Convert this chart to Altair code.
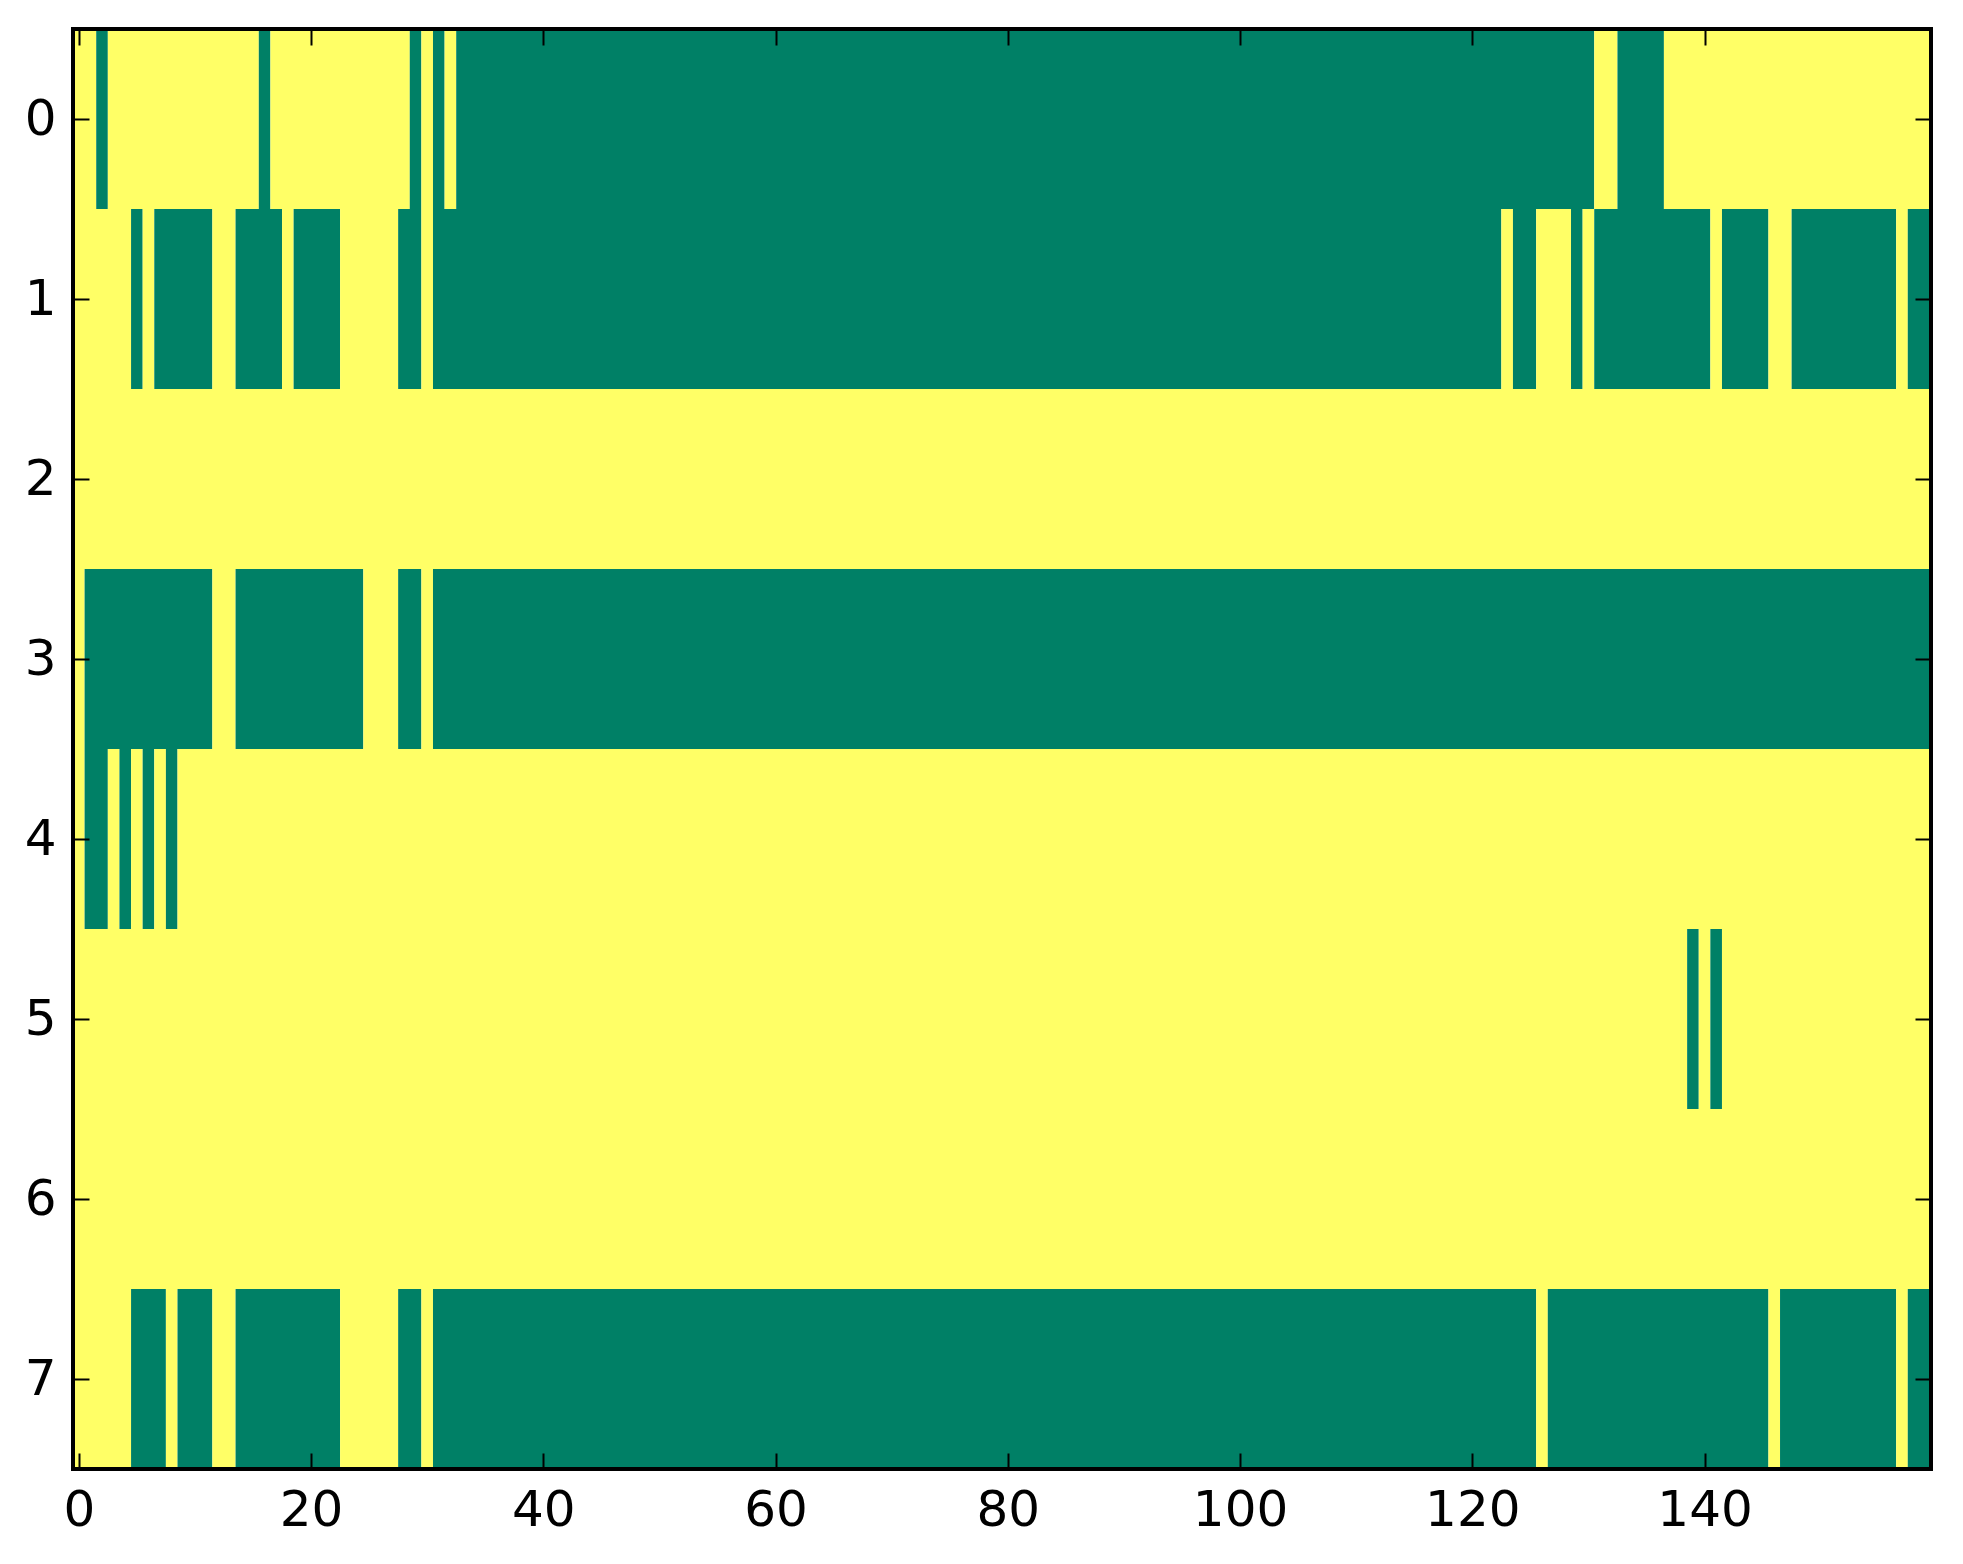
import altair as alt
import pandas as pd

n_cols = 160
row_ids = [0, 1, 2, 3, 4, 5, 6, 7]

# green (value 0) column ranges per row, inclusive; everything else is yellow (value 1)
row0_green = [(2, 2), (16, 16), (29, 29), (31, 31), (33, 130), (133, 136)]
row1_green = [(5, 5), (7, 11), (14, 17), (19, 22), (28, 29), (31, 122), (124, 125),
              (129, 129), (131, 140), (142, 145), (148, 156), (158, 159)]
row2_green = []
row3_green = [(1, 11), (14, 24), (28, 29), (31, 159)]
row4_green = [(1, 2), (4, 4), (6, 6), (8, 8)]
row5_green = [(139, 139), (141, 141)]
row6_green = []
row7_green = [(5, 7), (9, 11), (14, 22), (28, 29), (31, 125), (127, 145), (147, 156), (158, 159)]

x_ticks = [0, 20, 40, 60, 80, 100, 120, 140]
y_ticks = [0, 1, 2, 3, 4, 5, 6, 7]

GREEN = "#008066"
YELLOW = "#ffff66"

all_green = [row0_green, row1_green, row2_green, row3_green,
             row4_green, row5_green, row6_green, row7_green]

# build matrix of values then run-length encode for drawing
records = []
for r, runs in zip(row_ids, all_green):
    vals = [1] * n_cols
    for a, b in runs:
        for c in range(a, b + 1):
            vals[c] = 0
    start = 0
    for c in range(1, n_cols + 1):
        if c == n_cols or vals[c] != vals[start]:
            records.append({"row": r, "x0": start - 0.5, "x1": c - 0.5,
                            "y0": r - 0.5, "y1": r + 0.5, "value": vals[start]})
            start = c
df = pd.DataFrame(records)

W, H = 1858, 1440
TICK = 16
FONT = "DejaVu Sans"
FS = 50

xscale = alt.Scale(domain=[-0.5, 159.5], nice=False, zero=False)
yscale = alt.Scale(domain=[-0.5, 7.5], reverse=True, nice=False, zero=False)
cscale = alt.Scale(domain=[0, 1], range=[GREEN, YELLOW])

cells = alt.Chart(df).mark_rect(strokeWidth=0).encode(
    x=alt.X("x0:Q", scale=xscale, title=None,
            axis=alt.Axis(orient="bottom", values=x_ticks, offset=-TICK, tickSize=TICK,
                          tickWidth=2, tickColor="black", domain=False, grid=False,
                          labelFont=FONT, labelFontSize=FS, labelColor="black",
                          labelPadding=16, labelFlush=False, labelOverlap=False,
                          format="d", zindex=1)),
    x2="x1:Q",
    y=alt.Y("y0:Q", scale=yscale, title=None,
            axis=alt.Axis(orient="left", values=y_ticks, offset=-TICK, tickSize=TICK,
                          tickWidth=2, tickColor="black", domain=False, grid=False,
                          labelFont=FONT, labelFontSize=FS, labelColor="black",
                          labelPadding=17, labelFlush=False, labelOverlap=False,
                          format="d", zindex=1)),
    y2="y1:Q",
    color=alt.Color("value:N", scale=cscale, legend=None),
)

ghost = alt.Chart(df).mark_rect(opacity=0).encode(
    x=alt.X("x0:Q", scale=xscale, title=None,
            axis=alt.Axis(orient="top", values=x_ticks, offset=-TICK, tickSize=TICK,
                          tickWidth=2, tickColor="black", domain=False, grid=False,
                          labels=False, zindex=1)),
    x2="x1:Q",
    y=alt.Y("y0:Q", scale=yscale, title=None,
            axis=alt.Axis(orient="right", values=y_ticks, offset=-TICK, tickSize=TICK,
                          tickWidth=2, tickColor="black", domain=False, grid=False,
                          labels=False, zindex=1)),
    y2="y1:Q",
)

frame = alt.Chart(pd.DataFrame({"a": [0]})).mark_rect(
    filled=False, stroke="black", strokeWidth=4
).encode(
    x=alt.X(datum=-0.5, scale=xscale, axis=None),
    x2=alt.X2(datum=159.5),
    y=alt.Y(datum=-0.5, scale=yscale, axis=None),
    y2=alt.Y2(datum=7.5),
)

chart = alt.layer(cells, ghost, frame).resolve_axis(
    x="independent", y="independent"
).properties(
    width=W, height=H,
    autosize=alt.AutoSizeParams(type="none"),
    padding={"left": 65, "top": 21, "right": 12, "bottom": 70},
).configure_view(stroke="transparent").configure(background="white")

chart.save("out.html", embed_options={"renderer": "svg", "actions": False})
